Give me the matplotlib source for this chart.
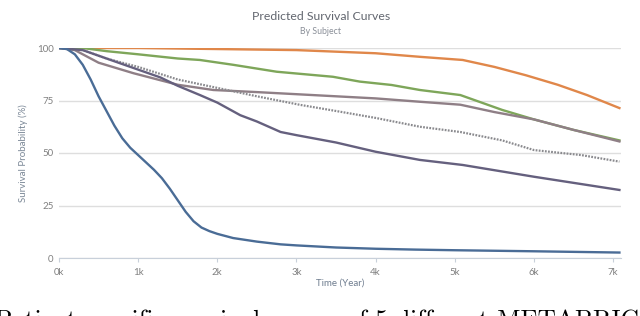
import matplotlib.pyplot as plt

# time axis in thousands of years, survival in percent
blue_t = [0, 0.1, 0.2, 0.3, 0.4, 0.5, 0.6, 0.7, 0.8, 0.9, 1.0, 1.1, 1.2, 1.3, 1.4, 1.5, 1.6, 1.7, 1.8, 1.9, 2.0,
          2.2, 2.5, 2.8, 3.0, 3.5, 4.0, 4.5, 5.0, 6.0, 7.08]
blue_s = [100, 99.5, 97, 92, 85, 77, 70, 63, 57, 52.5, 49, 45.5, 42, 38, 33, 27.5, 22, 17.5, 14.5, 12.8, 11.5,
          9.5, 7.8, 6.5, 6, 5, 4.4, 4, 3.7, 3.2, 2.6]

orange_t = [0, 1.0, 2.0, 3.0, 4.0, 4.56, 5.1, 5.5, 5.9, 6.3, 6.67, 7.08]
orange_s = [100, 100, 99.5, 99, 97.5, 95.8, 94.3, 91, 87, 82.5, 77.6, 71.4]

green_t = [0, 0.3, 0.6, 1.0, 1.5, 1.78, 2.2, 2.75, 3.46, 3.8, 4.2, 4.56, 5.07, 5.6, 6.0, 6.5, 7.08]
green_s = [100, 100, 98.5, 97, 95, 94.3, 92, 88.7, 86.3, 84, 82.4, 80, 77.6, 70.5, 66, 61, 56]

mauve_t = [0, 0.2, 0.5, 0.94, 1.5, 1.95, 2.5, 3.0, 4.0, 4.56, 5.07, 5.5, 6.0, 6.5, 7.08]
mauve_s = [100, 99, 93, 88, 82.5, 80, 79, 78, 76, 74.4, 73, 69.5, 66, 61, 55.5]

slate_t = [0, 0.3, 0.6, 0.94, 1.28, 1.5, 1.78, 2.0, 2.29, 2.5, 2.8, 3.0, 3.5, 4.0, 4.56, 5.1, 6.0, 7.08]
slate_s = [100, 99, 95, 90.5, 86, 82, 77.6, 74, 68, 65, 60, 58.5, 55, 50.6, 46.7, 44.3, 38.7, 32.4]

dotted_t = [0, 0.3, 0.6, 1.0, 1.5, 2.0, 2.5, 3.05, 3.5, 4.0, 4.56, 5.07, 5.6, 6.0, 6.6, 7.08]
dotted_s = [100, 99, 95, 91, 85, 81, 77, 72.9, 70, 66.7, 62.5, 60, 56, 51.4, 49, 45.9]

x_ticks = [0, 1, 2, 3, 4, 5, 6, 7]
x_labels = ["0k", "1k", "2k", "3k", "4k", "5k", "6k", "7k"]
y_ticks = [0, 25, 50, 75, 100]

plt.rcParams["font.family"] = ["Lato", "DejaVu Sans"]

fig = plt.figure(figsize=(6.4, 3.16), dpi=100)
ax = fig.add_axes([59 / 640, 1 - 258 / 316, 562 / 640, 210 / 316])

ax.plot(orange_t, orange_s, color="#e0874a", lw=1.7)
ax.plot(green_t, green_s, color="#7ea65a", lw=1.7)
ax.plot(mauve_t, mauve_s, color="#8f7f86", lw=1.7)
ax.plot(dotted_t, dotted_s, color="#8a8a8e", lw=1.6, ls=(0, (0.8, 0.6)))
ax.plot(slate_t, slate_s, color="#65607e", lw=1.7)
ax.plot(blue_t, blue_s, color="#4a6c96", lw=1.7)

ax.set_xlim(0, 7.1)
ax.set_ylim(0, 100)
ax.set_xticks(x_ticks)
ax.set_xticklabels(x_labels)
ax.set_yticks(y_ticks)
ax.set_yticklabels([str(v) for v in y_ticks])
ax.tick_params(axis="both", labelsize=7, colors="#808080", length=0, pad=4)
ax.tick_params(axis="x", length=3, color="#c8d0da")
ax.grid(axis="y", color="#dedede", lw=1)
ax.set_axisbelow(True)
for side in ["top", "right", "left"]:
    ax.spines[side].set_visible(False)
ax.spines["bottom"].set_color("#c8d0da")

ax.set_xlabel("Time (Year)", fontsize=7, color="#6f7d8f", labelpad=1)
ax.set_ylabel("Survival Probability (%)", fontsize=7, color="#7a8796", labelpad=6)

fig.text(321 / 640, 1 - 17 / 316, "Predicted Survival Curves", ha="center", va="center",
         fontsize=8.8, color="#62666f")
fig.text(321 / 640, 1 - 31.5 / 316, "By Subject", ha="center", va="center",
         fontsize=6.3, color="#8a8f98")

# paper caption, cut off by the bottom edge as in the screenshot
fig.text(-0.008, 1 - 327 / 316, "Patient-specific survival curves of 5 different METABRIC",
         ha="left", va="baseline", fontsize=18.2, family="cmr10", color="black")

fig.savefig("out.png", dpi=100)
